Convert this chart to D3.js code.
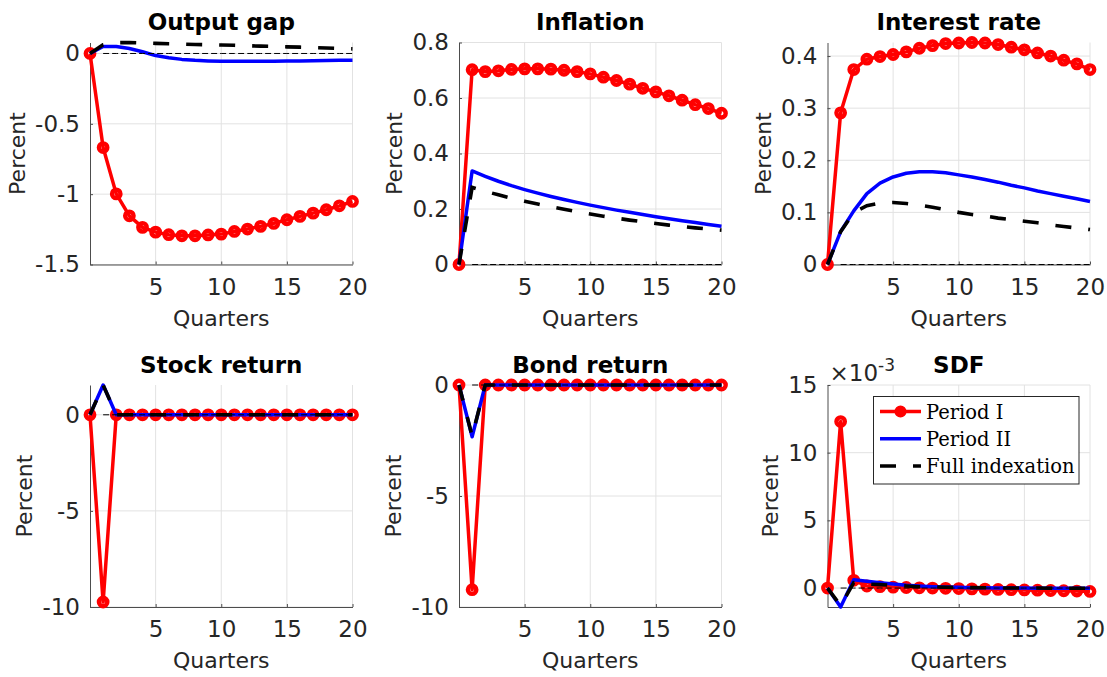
<!DOCTYPE html>
<html><head><meta charset="utf-8">
<script src="https://cdn.jsdelivr.net/npm/d3@7"></script>
<style>
body{margin:0;background:#fff;}
svg{display:block;}
</style></head><body>
<svg id="chart" width="1107" height="677"></svg>
<script>
// ---------- DATA ----------
const quarters = [0,1,2,3,4,5,6,7,8,9,10,11,12,13,14,15,16,17,18,19,20];
const xTickValues = [5,10,15,20];
const xTickLabels = ["5","10","15","20"];
const seriesNames = ["Period I","Period II","Full indexation"];

const outputGapI    = [0,-0.669,-0.998,-1.154,-1.236,-1.27,-1.288,-1.296,-1.296,-1.29,-1.284,-1.265,-1.248,-1.229,-1.208,-1.182,-1.158,-1.135,-1.111,-1.083,-1.052];
const outputGapII   = [0,0.05,0.05,0.035,0.012,-0.015,-0.03,-0.042,-0.049,-0.053,-0.055,-0.056,-0.056,-0.056,-0.055,-0.054,-0.053,-0.052,-0.05,-0.049,-0.048];
const outputGapFull = [0,0.062,0.077,0.078,0.075,0.072,0.069,0.067,0.064,0.062,0.06,0.058,0.055,0.052,0.05,0.047,0.045,0.042,0.039,0.036,0.033];

const inflationI    = [0,0.702,0.695,0.698,0.703,0.705,0.705,0.704,0.7,0.695,0.687,0.675,0.663,0.65,0.635,0.622,0.608,0.592,0.576,0.562,0.545];
const inflationII   = [0,0.337,0.318,0.3,0.284,0.27,0.257,0.245,0.234,0.224,0.214,0.205,0.196,0.188,0.18,0.172,0.165,0.158,0.151,0.144,0.138];
const inflationFull = [0,0.278,0.264,0.251,0.239,0.228,0.218,0.208,0.199,0.19,0.182,0.174,0.167,0.16,0.154,0.148,0.142,0.137,0.132,0.128,0.124];

const interestI    = [0,0.291,0.374,0.394,0.399,0.403,0.408,0.415,0.42,0.424,0.425,0.426,0.425,0.422,0.417,0.412,0.406,0.4,0.392,0.385,0.374];
const interestII   = [0,0.063,0.103,0.136,0.156,0.168,0.175,0.178,0.178,0.176,0.172,0.168,0.163,0.158,0.152,0.147,0.141,0.136,0.131,0.126,0.121];
const interestFull = [0,0.063,0.1,0.113,0.118,0.119,0.117,0.114,0.11,0.105,0.1,0.096,0.093,0.089,0.086,0.083,0.08,0.076,0.073,0.07,0.067];

const stockI    = [0,-9.74,0,0,0,0,0,0,0,0,0,0,0,0,0,0,0,0,0,0,0];
const stockII   = [0,1.55,0,0,0,0,0,0,0,0,0,0,0,0,0,0,0,0,0,0,0];
const stockFull = [0,1.55,0,0,0,0,0,0,0,0,0,0,0,0,0,0,0,0,0,0,0];

const bondI    = [0,-9.22,0,0,0,0,0,0,0,0,0,0,0,0,0,0,0,0,0,0,0];
const bondII   = [0,-2.33,0,0,0,0,0,0,0,0,0,0,0,0,0,0,0,0,0,0,0];
const bondFull = [0,-2.3,0,0,0,0,0,0,0,0,0,0,0,0,0,0,0,0,0,0,0];

// SDF values in units of 1e-3
const sdfI    = [0,12.3,0.57,0.15,0.1,0.07,0.04,0.02,0,-0.02,-0.04,-0.06,-0.08,-0.1,-0.12,-0.14,-0.16,-0.18,-0.2,-0.22,-0.25];
const sdfII   = [0,-1.4,0.62,0.5,0.4,0.3,0.2,0.15,0.1,0.07,0.05,0.03,0.02,0.01,0,0,-0.01,-0.01,-0.02,-0.02,-0.02];
const sdfFull = [0,-1.3,0.4,0.3,0.25,0.2,0.15,0.1,0.08,0.06,0.04,0.03,0.02,0.01,0,0,0,-0.01,-0.01,-0.01,-0.01];

const outputGapTicks = [-1.5,-1,-0.5,0];
const outputGapTickLabels = ["-1.5","-1","-0.5","0"];
const inflationTicks = [0,0.2,0.4,0.6,0.8];
const inflationTickLabels = ["0","0.2","0.4","0.6","0.8"];
const interestTicks = [0,0.1,0.2,0.3,0.4];
const interestTickLabels = ["0","0.1","0.2","0.3","0.4"];
const returnTicks = [-10,-5,0];
const returnTickLabels = ["-10","-5","0"];
const sdfTicks = [0,5,10,15];
const sdfTickLabels = ["0","5","10","15"];

const titles = ["Output gap","Inflation","Interest rate","Stock return","Bond return","SDF"];

// ---------- LAYOUT ----------
const svg = d3.select("#chart");
const SANS = '"DejaVu Sans", sans-serif';
const SERIF = '"DejaVu Serif", serif';
const TXT = "#262626";
const PW = 262.5, PH = 222;
const colX = [90, 459, 827.5];
const rowY = [42.5, 385];
const colors = ["#ff0000","#0000ff","#000000"];

const panels = [
  {title:titles[0], series:[outputGapI,outputGapII,outputGapFull], yMin:-1.5, yMax:null, ticks:outputGapTicks, labels:outputGapTickLabels},
  {title:titles[1], series:[inflationI,inflationII,inflationFull], yMin:0, yMax:0.8, ticks:inflationTicks, labels:inflationTickLabels},
  {title:titles[2], series:[interestI,interestII,interestFull], yMin:0, yMax:null, ticks:interestTicks, labels:interestTickLabels},
  {title:titles[3], series:[stockI,stockII,stockFull], yMin:-10, yMax:null, ticks:returnTicks, labels:returnTickLabels},
  {title:titles[4], series:[bondI,bondII,bondFull], yMin:-10, yMax:0, ticks:returnTicks, labels:returnTickLabels},
  {title:titles[5], series:[sdfI,sdfII,sdfFull], yMin:null, yMax:15, ticks:sdfTicks, labels:sdfTickLabels, exponent:"-3", legend:true}
];

panels.forEach((p, idx) => {
  const px = colX[idx % 3], py = rowY[Math.floor(idx / 3)];
  const g = svg.append("g").attr("transform", `translate(${px},${py})`);
  const all = p.series.flat();
  const yLo = p.yMin != null ? p.yMin : d3.min(all);
  const yHi = p.yMax != null ? p.yMax : d3.max(all);
  const x = d3.scaleLinear().domain([0, 20]).range([0, PW]);
  const y = d3.scaleLinear().domain([yLo, yHi]).range([PH, 0]);

  // grid
  const grid = g.append("g").attr("stroke", "#e2e2e2").attr("stroke-width", 1);
  grid.selectAll(".gx").data(xTickValues).join("line")
    .attr("x1", d => x(d)).attr("x2", d => x(d)).attr("y1", 0).attr("y2", PH);
  grid.selectAll(".gy").data(p.ticks).join("line")
    .attr("x1", 0).attr("x2", PW).attr("y1", d => y(d)).attr("y2", d => y(d));

  // axes
  const ya = g.append("g").call(
    d3.axisLeft(y).tickValues(p.ticks).tickFormat((d, i) => p.labels[i])
      .tickSizeInner(-3).tickSizeOuter(0).tickPadding(10));
  const xa = g.append("g").attr("transform", `translate(0,${PH})`).call(
    d3.axisBottom(x).tickValues(xTickValues).tickFormat((d, i) => xTickLabels[i])
      .tickSizeInner(-3).tickSizeOuter(0).tickPadding(14));
  [ya, xa].forEach(a => {
    a.select(".domain").attr("stroke", "#4d4d4d");
    a.selectAll(".tick line").attr("stroke", "#4d4d4d");
    a.selectAll("text").attr("fill", TXT).style("font-family", SANS).style("font-size", "23px");
  });

  // lines: red with markers, blue solid, black dashed
  const line = d3.line().x((d, i) => x(quarters[i])).y(d => y(d));
  g.append("path").datum(p.series[0]).attr("d", line)
    .attr("fill", "none").attr("stroke", colors[0]).attr("stroke-width", 3.5).attr("stroke-linejoin", "round");
  g.append("g").selectAll("circle").data(p.series[0]).join("circle")
    .attr("cx", (d, i) => x(quarters[i])).attr("cy", d => y(d)).attr("r", 4.2)
    .attr("fill", "none").attr("stroke", colors[0]).attr("stroke-width", 4.4);
  g.append("path").datum(p.series[1]).attr("d", line)
    .attr("fill", "none").attr("stroke", colors[1]).attr("stroke-width", 3.5).attr("stroke-linejoin", "round");
  g.append("path").datum(p.series[2]).attr("d", line)
    .attr("fill", "none").attr("stroke", colors[2]).attr("stroke-width", 3.6)
    .attr("stroke-dasharray", "16,17");
  // thin zero reference line
  const zq = quarters.slice(1);
  g.append("path").datum(zq)
    .attr("d", d3.line().x(d => x(d)).y(() => y(0)))
    .attr("fill", "none").attr("stroke", "#000").attr("stroke-width", 1).attr("stroke-dasharray", "6,3");

  // title
  g.append("text").attr("x", PW / 2).attr("y", -12.5).attr("text-anchor", "middle")
    .style("font-family", SANS).style("font-size", "23px").style("font-weight", "bold")
    .attr("fill", "#000").text(p.title);
  // x label
  g.append("text").attr("x", PW / 2).attr("y", PH + 61).attr("text-anchor", "middle")
    .style("font-family", SANS).style("font-size", "22px").attr("fill", TXT).text("Quarters");
  // y label
  let minX = 0;
  ya.selectAll(".tick text").each(function () {
    const b = this.getBBox();
    minX = Math.min(minX, b.x);
  });
  g.append("text").attr("transform", `translate(${minX - 10},${PH / 2}) rotate(-90)`)
    .attr("text-anchor", "middle")
    .style("font-family", SANS).style("font-size", "22px").attr("fill", TXT).text("Percent");

  if (p.exponent) {
    const t = g.append("text").attr("x", 2).attr("y", -4)
      .style("font-family", SANS).style("font-size", "23px").attr("fill", TXT);
    t.append("tspan").text("×10");
    t.append("tspan").attr("dy", -10).style("font-size", "17px").text(p.exponent);
  }

  if (p.legend) {
    const lg = g.append("g").attr("transform", `translate(${PW - 11 - 205.5},11.5)`);
    lg.append("rect").attr("width", 205.5).attr("height", 87.5)
      .attr("fill", "#fff").attr("stroke", "#262626").attr("stroke-width", 1);
    seriesNames.forEach((name, i) => {
      const ly = 15 + i * 27.2;
      const row = lg.append("g").attr("transform", `translate(0,${ly})`);
      row.append("line").attr("x1", 6.5).attr("x2", 47.5).attr("y1", 0).attr("y2", 0)
        .attr("stroke", colors[i]).attr("stroke-width", 3.5)
        .attr("stroke-dasharray", i === 2 ? "16,17" : null);
      if (i === 0) row.append("circle").attr("cx", 27).attr("cy", 0).attr("r", 4.3)
        .attr("fill", colors[0]).attr("stroke", colors[0]).attr("stroke-width", 3.5);
      row.append("text").attr("x", 52.5).attr("y", 7)
        .style("font-family", SERIF).style("font-size", "19.5px").attr("fill", "#000").text(name);
    });
  }
});
</script>
</body></html>
